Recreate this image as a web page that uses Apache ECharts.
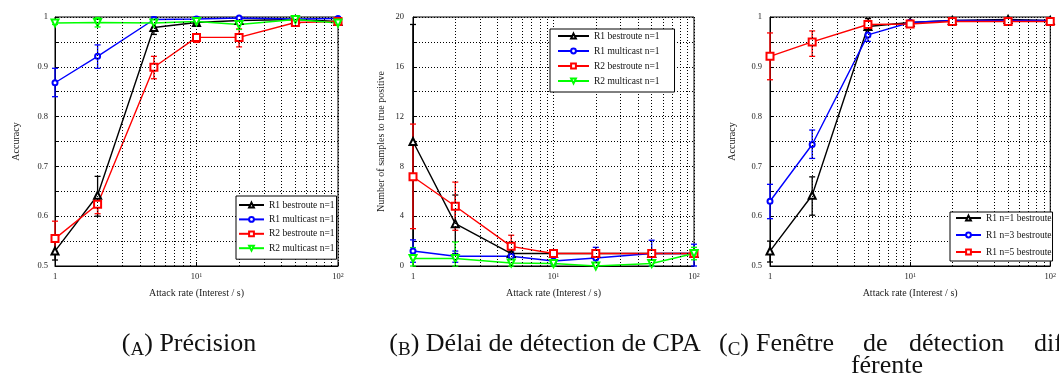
<!DOCTYPE html>
<html><head><meta charset="utf-8">
<script src="https://cdn.jsdelivr.net/npm/echarts@6/dist/echarts.min.js"></script>
<style>html,body{margin:0;padding:0;background:#fff}#c{width:1059px;height:376px}</style>
</head><body><div id="c"></div>
<script>
// ---- data ----
const xs = [1, 2, 5, 10, 20, 50, 100];
const xMinor = [2, 3, 4, 5, 6, 7, 8, 9, 20, 30, 40, 50, 60, 70, 80, 90];
const xTickLabels = {1: '1', 10: '10{s|1}', 100: '10{s|2}'};

// Chart A : accuracy
const A_r1best    = [0.530, 0.642, 0.979, 0.989, 0.993, 0.995, 0.991];
const A_r1best_lo = [0.512, 0.600, 0.965, 0.985, 0.988, 0.992, 0.988];
const A_r1best_hi = [0.548, 0.680, 0.993, 0.993, 0.998, 0.998, 0.994];
const A_r1mult    = [0.868, 0.921, 0.995, 0.996, 0.998, 0.996, 0.997];
const A_r1mult_lo = [0.840, 0.897, 0.990, 0.982, 0.995, 0.992, 0.994];
const A_r1mult_hi = [0.897, 0.944, 1.000, 1.000, 1.000, 1.000, 1.000];
const A_r2best    = [0.555, 0.624, 0.899, 0.959, 0.959, 0.989, 0.991];
const A_r2best_lo = [0.525, 0.605, 0.876, 0.949, 0.940, 0.985, 0.988];
const A_r2best_hi = [0.590, 0.636, 0.921, 0.964, 0.976, 0.993, 0.994];
const A_r2mult    = [0.988, 0.989, 0.988, 0.991, 0.985, 0.995, 0.988];
const A_r2mult_lo = [0.985, 0.980, 0.978, 0.986, 0.975, 0.990, 0.984];
const A_r2mult_hi = [0.991, 0.999, 0.998, 0.996, 0.994, 1.000, 0.992];

// Chart B : samples to true positive
const B_r1best    = [10.0, 3.4, 1.0, 1.0, 1.0, 1.0, 1.0];
const B_r1best_lo = [0.6, 1.0, 0.8, 1.0, 1.0, 1.0, 1.0];
const B_r1best_hi = [19.4, 5.7, 1.2, 1.0, 1.0, 1.0, 1.0];
const B_r1mult    = [1.2, 0.78, 0.78, 0.4, 0.64, 1.0, 1.0];
const B_r1mult_lo = [0.3, 0.3, 0.5, 0.1, 0.0, 0.0, 0.0];
const B_r1mult_hi = [2.1, 1.2, 1.1, 0.7, 1.5, 2.07, 1.75];
const B_r2best    = [7.17, 4.8, 1.58, 1.0, 1.0, 1.0, 1.0];
const B_r2best_lo = [3.0, 2.87, 0.72, 0.8, 0.8, 0.8, 0.8];
const B_r2best_hi = [11.4, 6.74, 2.47, 1.2, 1.2, 1.2, 1.2];
const B_r2mult    = [0.6, 0.6, 0.24, 0.2, 0.0, 0.2, 1.0];
const B_r2mult_lo = [0.0, 0.0, 0.0, 0.0, 0.0, 0.0, 0.5];
const B_r2mult_hi = [1.48, 1.93, 0.6, 0.5, 0.2, 0.5, 1.5];

// Chart C : detection window
const C_n1    = [0.530, 0.642, 0.981, 0.989, 0.993, 0.995, 0.993];
const C_n1_lo = [0.508, 0.602, 0.965, 0.985, 0.990, 0.992, 0.990];
const C_n1_hi = [0.550, 0.679, 0.997, 0.993, 0.996, 0.998, 0.996];
const C_n3    = [0.630, 0.744, 0.964, 0.989, 0.993, 0.993, 0.993];
const C_n3_lo = [0.595, 0.716, 0.951, 0.985, 0.990, 0.990, 0.990];
const C_n3_hi = [0.664, 0.773, 0.976, 0.993, 0.996, 0.996, 0.996];
const C_n5    = [0.921, 0.950, 0.985, 0.986, 0.991, 0.991, 0.991];
const C_n5_lo = [0.874, 0.921, 0.977, 0.982, 0.988, 0.988, 0.988];
const C_n5_hi = [0.968, 0.972, 0.993, 0.990, 0.994, 0.994, 0.994];

const legendAB = ['R1 bestroute n=1', 'R1 multicast n=1', 'R2 bestroute n=1', 'R2 multicast n=1'];
const legendC = ['R1 n=1 bestroute', 'R1 n=3 bestroute', 'R1 n=5 bestroute'];
const xName = 'Attack rate (Interest / s)';
const yNames = ['Accuracy', 'Number of samples to true positive', 'Accuracy'];

// ---- build ----
const FONT = 'Liberation Serif';
const BLACK = '#000000', BLUE = '#0000ff', RED = '#ff0000', GREEN = '#00ff00';
const MK = {
  tri: {symbol: 'emptyTriangle', size: 7, rot: 0},
  cir: {symbol: 'emptyCircle', size: 5, rot: 0},
  sq: {symbol: 'emptyRect', size: 7, rot: 0},
  dtri: {symbol: 'emptyTriangle', size: 7, rot: 180}
};
const specs = [
  {g: 0, name: legendAB[0], color: BLACK, mk: MK.tri, y: A_r1best, lo: A_r1best_lo, hi: A_r1best_hi},
  {g: 0, name: legendAB[1], color: BLUE, mk: MK.cir, y: A_r1mult, lo: A_r1mult_lo, hi: A_r1mult_hi},
  {g: 0, name: legendAB[2], color: RED, mk: MK.sq, y: A_r2best, lo: A_r2best_lo, hi: A_r2best_hi},
  {g: 0, name: legendAB[3], color: GREEN, mk: MK.dtri, y: A_r2mult, lo: A_r2mult_lo, hi: A_r2mult_hi},
  {g: 1, name: legendAB[0], color: BLACK, mk: MK.tri, y: B_r1best, lo: B_r1best_lo, hi: B_r1best_hi},
  {g: 1, name: legendAB[1], color: BLUE, mk: MK.cir, y: B_r1mult, lo: B_r1mult_lo, hi: B_r1mult_hi},
  {g: 1, name: legendAB[2], color: RED, mk: MK.sq, y: B_r2best, lo: B_r2best_lo, hi: B_r2best_hi},
  {g: 1, name: legendAB[3], color: GREEN, mk: MK.dtri, y: B_r2mult, lo: B_r2mult_lo, hi: B_r2mult_hi},
  {g: 2, name: legendC[0], color: BLACK, mk: MK.tri, y: C_n1, lo: C_n1_lo, hi: C_n1_hi},
  {g: 2, name: legendC[1], color: BLUE, mk: MK.cir, y: C_n3, lo: C_n3_lo, hi: C_n3_hi},
  {g: 2, name: legendC[2], color: RED, mk: MK.sq, y: C_n5, lo: C_n5_lo, hi: C_n5_hi}
];

const grids = [
  {left: 55, top: 17, width: 283, height: 249},
  {left: 413, top: 17, width: 281, height: 249},
  {left: 770, top: 17, width: 281, height: 249}
];
const yCfg = [
  {min: 0.5, max: 1, interval: 0.1, nameGap: 34, margin: 7},
  {min: 0, max: 20, interval: 4, nameGap: 27, margin: 9},
  {min: 0.5, max: 1, interval: 0.1, nameGap: 33, margin: 8}
];
const DOT = {type: [1, 2], color: '#000', width: 1};

const xAxis = grids.map((g, i) => ({
  type: 'log', logBase: 10, min: 1, max: 100, gridIndex: i,
  name: xName, nameLocation: 'middle', nameGap: 22,
  nameTextStyle: {fontFamily: FONT, fontSize: 10, color: '#222'},
  axisLine: {show: true, lineStyle: {color: '#000', width: 1}},
  axisTick: {show: true, inside: true, length: 4, lineStyle: {color: '#000'}},
  splitLine: {show: true, lineStyle: DOT},
  axisLabel: {
    margin: 6, fontFamily: FONT, fontSize: 8.5, color: '#222',
    showMinLabel: true, showMaxLabel: true,
    formatter: v => xTickLabels[Math.round(v)] || '',
    rich: {s: {fontSize: 6, fontFamily: FONT, color: '#222', verticalAlign: 'top', lineHeight: 6}}
  }
}));
const yAxis = grids.map((g, i) => ({
  type: 'value', gridIndex: i, min: yCfg[i].min, max: yCfg[i].max, interval: yCfg[i].interval,
  name: yNames[i], nameLocation: 'middle', nameGap: yCfg[i].nameGap,
  nameTextStyle: {fontFamily: FONT, fontSize: 10, color: '#222'},
  axisLine: {show: true, lineStyle: {color: '#000', width: 1}},
  axisTick: {show: true, inside: true, length: 4, lineStyle: {color: '#000'}},
  minorTick: {show: true, splitNumber: 2, length: 3, lineStyle: {color: '#000'}},
  splitLine: {show: true, lineStyle: DOT},
  minorSplitLine: {show: true, lineStyle: DOT},
  axisLabel: {margin: yCfg[i].margin, fontFamily: FONT, fontSize: 8.5, color: '#222'}
}));

function errRender(color) {
  return function (params, api) {
    const x = api.value(0), lo = api.value(1), hi = api.value(2);
    const p1 = api.coord([x, lo]), p2 = api.coord([x, hi]);
    const w = 3;
    const st = {stroke: color, lineWidth: 1.3};
    return {type: 'group', children: [
      {type: 'line', shape: {x1: p1[0], y1: p1[1], x2: p2[0], y2: p2[1]}, style: st},
      {type: 'line', shape: {x1: p1[0] - w, y1: p1[1], x2: p1[0] + w, y2: p1[1]}, style: st},
      {type: 'line', shape: {x1: p2[0] - w, y1: p2[1], x2: p2[0] + w, y2: p2[1]}, style: st}
    ]};
  };
}

const series = [];
// minor log grid lines
grids.forEach((g, i) => {
  series.push({
    type: 'line', name: '_grid' + i, xAxisIndex: i, yAxisIndex: i, z: 1,
    data: [[1, yCfg[i].min]], showSymbol: false, lineStyle: {opacity: 0}, silent: true,
    markLine: {silent: true, symbol: 'none', label: {show: false}, lineStyle: DOT, animation: false,
      data: xMinor.map(v => ({xAxis: v}))}
  });
});
specs.forEach((s, k) => {
  series.push({
    type: 'custom', name: '_err' + k, xAxisIndex: s.g, yAxisIndex: s.g,
    renderItem: errRender(s.color), encode: {x: 0, y: [1, 2]}, z: 3,
    data: xs.map((x, i) => [x, s.lo[i], s.hi[i]])
  });
});
specs.forEach(s => {
  series.push({
    type: 'line', name: s.name, xAxisIndex: s.g, yAxisIndex: s.g,
    data: xs.map((x, i) => [x, s.y[i]]),
    symbol: s.mk.symbol, symbolSize: s.mk.size, symbolRotate: s.mk.rot, showSymbol: true,
    color: s.color, lineStyle: {color: s.color, width: 1.4},
    itemStyle: {color: s.color, borderColor: s.color, borderWidth: 1.2}, z: 4
  });
});

const legendText = {fontFamily: FONT, fontSize: 9.5, color: '#111', lineHeight: 12};
const legend = [
  {data: legendAB, left: 236, top: 196, orient: 'vertical', itemWidth: 25, itemHeight: 6, itemGap: 2.4,
   padding: [3, 2, 5, 2], borderColor: '#000', borderWidth: 1, backgroundColor: '#fff', textStyle: legendText,
   selectedMode: false, z: 20},
  {data: legendAB, left: 550, top: 29, orient: 'vertical', itemWidth: 31, itemHeight: 6, itemGap: 3,
   padding: [1, 15, 5, 7], borderColor: '#000', borderWidth: 1, backgroundColor: '#fff', textStyle: legendText,
   selectedMode: false, z: 20},
  {data: legendC, left: 950, top: 212, orient: 'vertical', itemWidth: 25, itemHeight: 6, itemGap: 5,
   padding: [0, 1, 3, 5], borderColor: '#000', borderWidth: 1, backgroundColor: '#fff', textStyle: legendText,
   selectedMode: false, z: 20}
];

function cap(x, y, text, align) {
  return {type: 'text', x: x, y: y, silent: true, style: {
    text: text, fontFamily: FONT, fontSize: 26, lineHeight: 31, fill: '#111',
    align: align, verticalAlign: 'middle',
    rich: {s: {fontFamily: FONT, fontSize: 19, lineHeight: 27, verticalAlign: 'bottom', fill: '#111'}}
  }};
}
const graphic = [
  cap(189, 344, '({s|A}) Précision', 'center'),
  cap(545, 344, '({s|B}) Délai de détection de CPA', 'center'),
  cap(749, 344, '({s|C})', 'right'),
  cap(756, 344, 'Fenêtre', 'left'),
  cap(863, 344, 'de', 'left'),
  cap(909, 344, 'détection', 'left'),
  cap(1034, 344, 'dif-', 'left'),
  cap(887, 366, 'férente', 'center')
];

const chart = echarts.init(document.getElementById('c'), null, {renderer: 'canvas'});
chart.setOption({
  animation: false,
  backgroundColor: '#fff',
  grid: grids.map(g => Object.assign({show: true, borderColor: '#000', borderWidth: 1, backgroundColor: 'transparent'}, g)),
  xAxis, yAxis, series, legend, graphic
});
</script>
</body></html>
